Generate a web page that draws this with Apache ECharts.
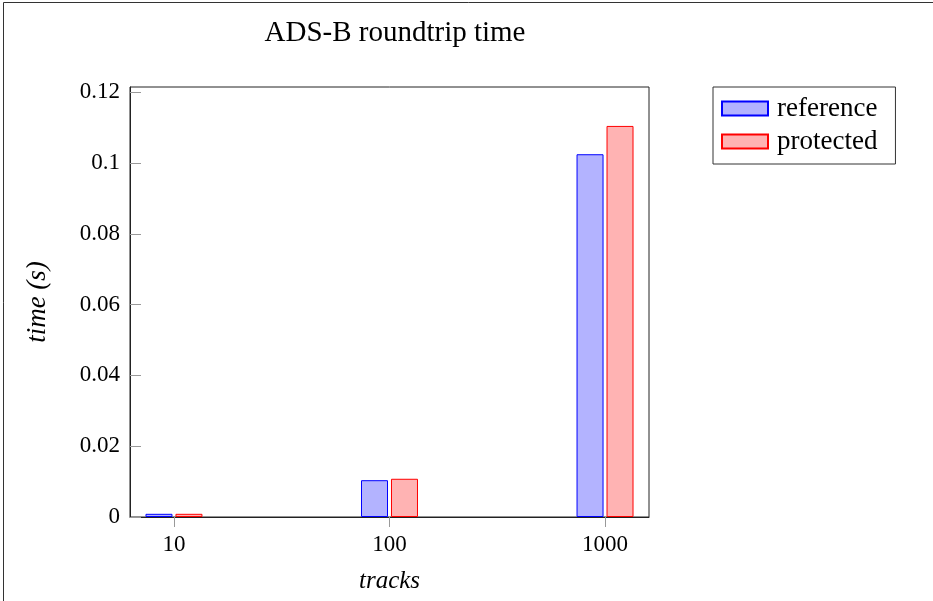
<!DOCTYPE html>
<html>
<head>
<meta charset="utf-8">
<script src="https://cdn.jsdelivr.net/npm/echarts@6/dist/echarts.min.js"></script>
<style>
  html, body { margin: 0; padding: 0; background: #fff; }
  #chart { width: 933px; height: 601px; }
</style>
</head>
<body>
<div id="chart"></div>
<script>
// tracks on the x axis (drawn on a log10 scale)
const tracks = [10, 100, 1000]
const refTimes = [0.0009, 0.0104, 0.1025]
const protTimes = [0.0009, 0.0108, 0.1105]
const yTicks = [0, 0.02, 0.04, 0.06, 0.08, 0.1, 0.12]

const serif = '"Liberation Serif", "DejaVu Serif", serif'
const xPos = tracks.map(t => Math.log10(t))

const c = echarts.init(document.getElementById('chart'))
c.setOption({
  animation: false,
  textStyle: { fontFamily: serif, color: '#000' },
  title: {
    text: 'ADS-B roundtrip time',
    left: 390, top: 14, textAlign: 'center',
    textStyle: { fontFamily: serif, fontWeight: 'normal', fontSize: 29, color: '#000' }
  },
  legend: {
    orient: 'vertical',
    left: 713, top: 87,
    padding: [8, 18, 9, 8],
    itemWidth: 46, itemHeight: 14, itemGap: 6,
    borderColor: '#333', borderWidth: 1,
    icon: 'rect',
    textStyle: { fontFamily: serif, fontSize: 27, color: '#000', padding: [0, 0, 0, 4] },
    data: ['reference', 'protected']
  },
  graphic: [{
    type: 'rect', silent: true,
    shape: { x: 3.5, y: 2.5, width: 1200, height: 1200 },
    style: { fill: 'none', stroke: '#333', lineWidth: 1 }
  }],
  grid: { left: 130, right: 284, top: 87, bottom: 84, show: true, borderColor: '#222', borderWidth: 1 },
  xAxis: {
    type: 'value',
    min: 0.796, max: 3.204,
    name: 'tracks', nameLocation: 'middle', nameGap: 52,
    nameTextStyle: { fontFamily: serif, fontStyle: 'italic', fontSize: 25, color: '#000' },
    axisLine: { onZero: false, lineStyle: { color: '#222', width: 1 } },
    axisTick: { customValues: xPos, length: 10, lineStyle: { color: '#999' } },
    axisLabel: {
      customValues: xPos, margin: 16,
      fontFamily: serif, fontSize: 23, color: '#000',
      formatter: v => String(Math.round(Math.pow(10, v)))
    },
    splitLine: { show: false }
  },
  yAxis: {
    type: 'value',
    min: 0, max: 0.1215,
    name: 'time (s)', nameLocation: 'middle', nameGap: 79, nameRotate: 90,
    nameTextStyle: { fontFamily: serif, fontStyle: 'italic', fontSize: 27, color: '#000' },
    axisLine: { show: true, lineStyle: { color: '#222', width: 1 } },
    axisTick: { customValues: yTicks, inside: true, length: 11, lineStyle: { color: '#999' } },
    axisLabel: { customValues: yTicks, margin: 10, fontFamily: serif, fontSize: 23, color: '#000' },
    splitLine: { show: false }
  },
  series: [
    {
      name: 'reference', type: 'bar', barWidth: 27, barGap: '11%',
      data: xPos.map((x, i) => [x, refTimes[i]]),
      itemStyle: { color: '#b3b3ff', borderColor: '#0000ff', borderWidth: 1 }
    },
    {
      name: 'protected', type: 'bar', barWidth: 27, barGap: '11%',
      data: xPos.map((x, i) => [x, protTimes[i]]),
      itemStyle: { color: '#ffb3b3', borderColor: '#ff0000', borderWidth: 1 }
    }
  ]
})
</script>
</body>
</html>
